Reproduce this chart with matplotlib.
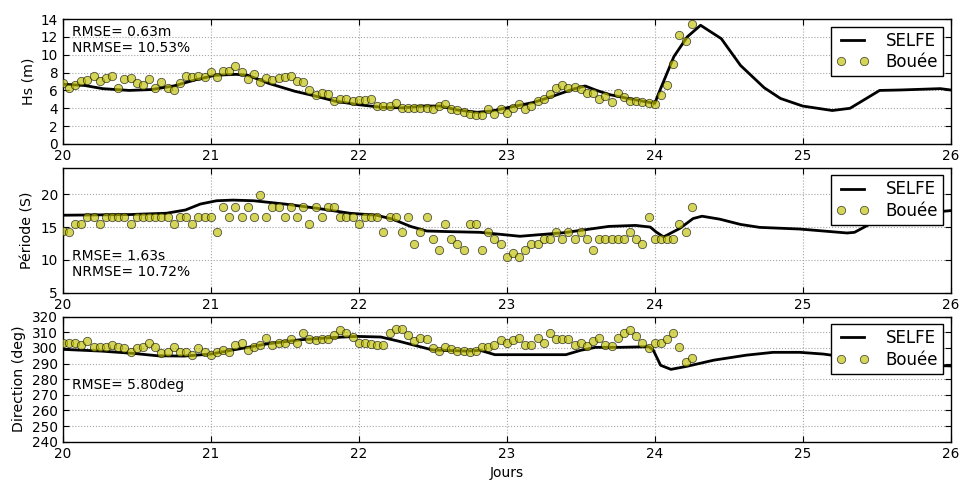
import matplotlib
matplotlib.use("Agg")
import matplotlib.pyplot as plt
import numpy as np

# Buoy observations: hourly samples starting at day 20.0
obs_start_day = 20.0
hs_obs = [6.8, 6.3, 6.6, 7.0, 7.2, 7.6, 7.1, 7.35, 7.6, 6.3,
          7.3, 7.35, 6.8, 6.6, 7.3, 6.3, 6.9, 6.3, 6.0, 6.8,
          7.6, 7.5, 7.6, 7.5, 8.1, 7.5, 8.2, 8.2, 8.7, 8.1,
          7.3, 7.8, 6.9, 7.35, 7.2, 7.4, 7.5, 7.6, 7.0, 6.9,
          6.0, 5.5, 5.7, 5.6, 4.85, 5.0, 5.0, 4.8, 4.9, 4.9,
          5.0, 4.2, 4.2, 4.2, 4.6, 4.0, 4.05, 4.05, 4.0, 4.0,
          3.9, 4.3, 4.45, 3.9, 3.8, 3.6, 3.4, 3.3, 3.3, 3.9,
          3.4, 3.9, 3.5, 4.05, 4.45, 3.9, 4.2, 4.8, 5.0, 5.6,
          6.3, 6.6, 6.3, 6.4, 6.15, 5.7, 5.7, 5.0, 5.4, 4.65,
          5.7, 5.3, 4.8, 4.8, 4.75, 4.55, 4.45, 5.5, 6.6, 9.0,
          12.2, 11.5, 13.4]
tp_obs = [14.4, 14.3, 15.4, 15.4, 16.6, 16.6, 15.4, 16.6, 16.6, 16.6,
          16.6, 15.4, 16.6, 16.6, 16.6, 16.6, 16.6, 16.6, 15.4, 16.6,
          16.6, 15.4, 16.6, 16.6, 16.6, 14.3, 18.1, 16.6, 18.1, 16.6,
          18.1, 16.6, 19.9, 16.6, 18.1, 18.1, 16.6, 18.1, 16.6, 18.1,
          15.4, 18.1, 16.6, 18.1, 18.1, 16.6, 16.6, 16.6, 15.4, 16.6,
          16.6, 16.6, 14.3, 16.6, 16.6, 14.3, 16.6, 12.4, 14.3, 16.6,
          13.2, 11.5, 15.4, 13.2, 12.4, 11.5, 15.4, 15.4, 11.5, 14.3,
          13.2, 12.4, 10.4, 11.0, 10.5, 11.5, 12.4, 12.4, 13.2, 13.2,
          14.3, 13.2, 14.3, 13.2, 14.3, 13.2, 11.5, 13.2, 13.2, 13.2,
          13.2, 13.2, 14.3, 13.2, 12.4, 16.6, 13.2, 13.2, 13.2, 13.2,
          15.4, 14.3, 18.1]
dir_obs = [303.3, 303.3, 303.3, 302.2, 304.6, 300.9, 300.9, 300.9, 302.0, 300.9,
           299.8, 297.6, 299.8, 300.9, 303.3, 300.9, 296.7, 297.6, 300.9, 297.6,
           297.6, 295.4, 299.8, 297.6, 295.4, 297.6, 298.7, 297.6, 302.2, 303.3,
           298.7, 300.9, 302.0, 306.5, 302.0, 303.3, 303.3, 305.9, 303.3, 309.8,
           305.9, 304.8, 305.9, 305.9, 308.5, 311.3, 309.8, 307.2, 303.3, 303.3,
           302.6, 302.0, 302.0, 309.8, 312.0, 312.0, 308.5, 304.3, 306.5, 305.9,
           300.0, 297.8, 300.9, 299.3, 298.3, 298.3, 297.6, 298.3, 300.9, 300.9,
           302.0, 304.8, 303.3, 304.8, 306.5, 302.2, 302.2, 306.5, 303.3, 309.8,
           305.9, 305.9, 305.9, 302.2, 303.3, 301.5, 304.3, 306.5, 302.2, 301.5,
           306.5, 309.8, 311.3, 307.4, 303.3, 300.0, 303.3, 303.3, 305.9, 309.8,
           300.9, 291.1, 293.3]

# SELFE model curves (day, value)
hs_mod_t = [20.0, 20.15, 20.27, 20.45, 20.6, 20.75, 20.9, 21.03, 21.17, 21.25,
            21.39, 21.57, 21.7, 21.84, 22.0, 22.16, 22.3, 22.44, 22.55, 22.67,
            22.8, 22.9, 23.0, 23.18, 23.32, 23.45, 23.53, 23.6, 23.69, 23.82,
            24.0, 24.04, 24.13, 24.22, 24.31, 24.45, 24.58, 24.74, 24.85, 25.0,
            25.2, 25.32, 25.43, 25.52, 25.66, 25.93, 26.0]
hs_mod = [6.7, 6.55, 6.2, 6.0, 6.1, 6.5, 7.2, 7.7, 7.8, 7.7,
          6.8, 5.9, 5.4, 4.8, 4.4, 4.1, 4.05, 4.25, 4.25, 3.8,
          3.55, 3.7, 4.05, 4.65, 5.4, 6.15, 6.5, 6.05, 5.55, 5.1,
          4.55, 6.2, 9.8, 12.0, 13.3, 11.8, 8.8, 6.3, 5.1, 4.25,
          3.75, 4.0, 5.1, 6.0, 6.05, 6.2, 6.05]
tp_mod_t = [20.0, 20.45, 20.7, 20.83, 20.93, 21.04, 21.15, 21.29, 21.5, 21.72,
            21.94, 22.12, 22.23, 22.35, 22.46, 22.62, 22.82, 23.09, 23.39, 23.69,
            23.87, 23.97, 24.01, 24.06, 24.17, 24.26, 24.32, 24.44, 24.58, 24.71,
            24.98, 25.3, 25.35, 25.5, 25.7, 26.0]
tp_mod = [16.8, 16.9, 17.1, 17.6, 18.5, 19.0, 19.1, 19.0, 18.5, 17.85,
          17.1, 16.8, 16.2, 15.1, 14.4, 14.3, 14.2, 13.6, 14.15, 15.1,
          15.25, 15.0, 14.25, 13.5, 14.8, 16.3, 16.65, 16.2, 15.4, 14.95,
          14.7, 14.1, 14.2, 16.0, 16.9, 17.5]
dir_mod_t = [20.0, 20.26, 20.48, 20.64, 20.82, 21.0, 21.15, 21.38, 21.6, 21.83,
             21.99, 22.15, 22.28, 22.41, 22.5, 22.73, 22.82, 22.92, 23.16, 23.4,
             23.5, 23.6, 23.77, 23.96, 23.99, 24.04, 24.11, 24.22, 24.4, 24.62,
             24.8, 24.98, 25.14, 25.3, 25.6, 26.0]
dir_mod = [299.1, 298.0, 296.5, 295.0, 294.8, 296.1, 298.7, 302.6, 305.2, 306.7,
           307.4, 307.0, 304.1, 300.9, 298.7, 298.0, 298.5, 295.7, 295.7, 295.7,
           298.5, 300.4, 300.4, 300.8, 298.7, 288.9, 286.3, 288.3, 292.2, 295.4,
           297.2, 297.2, 296.1, 294.0, 289.5, 288.5]

ylabels = ["Hs (m)", "Période (S)", "Direction (deg)"]
ylims = [(0, 14), (5, 24), (240, 320)]
yticks = [np.arange(0, 15, 2), [5, 10, 15, 20], np.arange(240, 321, 10)]
stats = ["RMSE= 0.63m\nNRMSE= 10.53%", "RMSE= 1.63s\nNRMSE= 10.72%", "RMSE= 5.80deg"]

plt.rcParams.update({
    "font.family": "DejaVu Sans",
    "xtick.direction": "in", "ytick.direction": "in",
    "xtick.top": True, "ytick.right": True,
    "xtick.major.size": 4, "ytick.major.size": 4,
    "xtick.labelsize": 9.8, "ytick.labelsize": 9.8,
    "axes.linewidth": 1.0,
})

fig, axes = plt.subplots(3, 1, figsize=(9.6, 4.8), dpi=100)
fig.subplots_adjust(left=0.0653, right=0.9903, top=0.9604, bottom=0.0798, hspace=0.191)

series = [(hs_mod_t, hs_mod, hs_obs), (tp_mod_t, tp_mod, tp_obs), (dir_mod_t, dir_mod, dir_obs)]
for i, (ax, (mt, mv, ov)) in enumerate(zip(axes, series)):
    ot = obs_start_day + np.arange(len(ov)) / 24.0
    ax.plot(mt, mv, color="k", lw=2, label="SELFE", zorder=2)
    ax.plot(ot, ov, "o", ms=6, mfc=(0.75, 0.75, 0.0), mec="k", mew=0.6,
            alpha=0.65, label="Bouée", zorder=3)
    ax.set_xlim(20, 26)
    ax.set_ylim(*ylims[i])
    ax.set_yticks(yticks[i])
    ax.set_xticks(range(20, 27))
    ax.grid(True, color="0.65", linestyle=":", linewidth=0.8)
    ax.set_ylabel(ylabels[i], fontsize=10.2)
    ax.legend(loc="upper right", numpoints=2, fancybox=False, framealpha=1,
              edgecolor="k", fontsize=12, borderpad=0.3, labelspacing=0.2,
              handlelength=2.0, handletextpad=1.0, borderaxespad=0.45)

axes[0].text(0.01, 0.95, stats[0], transform=axes[0].transAxes, va="top", fontsize=10)
axes[1].text(0.01, 0.35, stats[1], transform=axes[1].transAxes, va="top", fontsize=10)
axes[2].text(0.01, 0.455, stats[2], transform=axes[2].transAxes, va="center", fontsize=10)
axes[2].set_xlabel("Jours", fontsize=10)

fig.savefig("out.png", dpi=100)
